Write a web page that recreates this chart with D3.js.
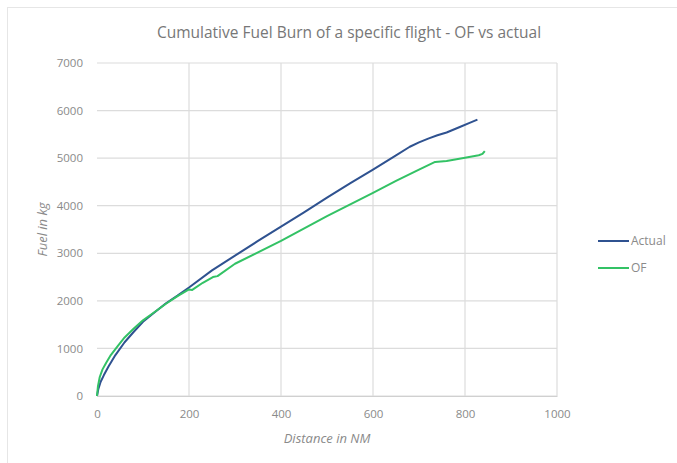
<!DOCTYPE html>
<html>
<head>
<meta charset="utf-8">
<script src="https://cdn.jsdelivr.net/npm/d3@7"></script>
<style>
  body { margin: 0; background: #fff; }
  svg { font-family: "Open Sans", "Liberation Sans", sans-serif; }
</style>
</head>
<body>
<div id="chart"></div>
<script>
// distance (NM) and cumulative fuel (kg)
const actualDist = [0, 3, 8, 15, 25, 40, 60, 80, 100, 120, 150, 175, 200, 250, 300, 350, 400, 450, 500, 550, 600, 650, 680, 700, 720, 740, 760, 790, 810, 827];
const actualFuel = [0, 150, 300, 440, 620, 860, 1130, 1350, 1560, 1720, 1950, 2110, 2280, 2640, 2950, 3260, 3560, 3860, 4170, 4470, 4760, 5060, 5240, 5330, 5410, 5480, 5540, 5660, 5740, 5810];

const ofDist = [0, 2, 6, 12, 20, 30, 45, 60, 80, 100, 120, 150, 175, 200, 207, 230, 252, 262, 300, 400, 500, 600, 650, 700, 735, 760, 800, 830, 838, 843];
const ofFuel = [0, 200, 400, 560, 700, 860, 1050, 1230, 1420, 1590, 1730, 1940, 2100, 2240, 2230, 2380, 2500, 2520, 2780, 3260, 3780, 4270, 4520, 4760, 4920, 4940, 5010, 5060, 5090, 5150];

const xTicks = [0, 200, 400, 600, 800, 1000];
const yTicks = [0, 1000, 2000, 3000, 4000, 5000, 6000, 7000];

const seriesNames = ["Actual", "OF"];
const seriesColors = ["#2f5290", "#33c265"];

const width = 677, height = 463;
const margin = {left: 97, right: 120, top: 63, bottom: 67};

const svg = d3.select("#chart").append("svg")
    .attr("width", width)
    .attr("height", height);

// outer chart frame
svg.append("rect")
    .attr("x", 7.5).attr("y", 7.5)
    .attr("width", 700).attr("height", 500)
    .attr("fill", "none")
    .attr("stroke", "#e6e6e6");

const x = d3.scaleLinear().domain([0, 1000]).range([margin.left, width - margin.right]);
const y = d3.scaleLinear().domain([0, 7000]).range([height - margin.bottom, margin.top]);

// gridlines
svg.append("g").selectAll("line")
    .data(yTicks)
    .enter().append("line")
    .attr("x1", x(0)).attr("x2", x(1000))
    .attr("y1", d => y(d)).attr("y2", d => y(d))
    .attr("stroke", "#dcdcdc")
    .attr("stroke-width", 1.2);

svg.append("g").selectAll("line")
    .data(xTicks.filter(d => d > 0))
    .enter().append("line")
    .attr("x1", d => x(d)).attr("x2", d => x(d))
    .attr("y1", y(0)).attr("y2", y(7000))
    .attr("stroke", "#dcdcdc")
    .attr("stroke-width", 1.2);

// axes (labels only, Excel style)
const xAxis = svg.append("g")
    .attr("transform", `translate(0,${y(0)})`)
    .call(d3.axisBottom(x).tickValues(xTicks).tickFormat(d3.format("d")).tickSize(0).tickPadding(14));
const yAxis = svg.append("g")
    .attr("transform", `translate(${x(0)},0)`)
    .call(d3.axisLeft(y).tickValues(yTicks).tickFormat(d3.format("d")).tickSize(0).tickPadding(14));

[xAxis, yAxis].forEach(a => {
    a.select(".domain").attr("stroke", "#d0d0d0").attr("stroke-width", 1.2);
    a.selectAll("text")
        .attr("fill", "#8a8a8a")
        .style("font-size", "11.5px")
        .style("font-family", "\"Open Sans\", sans-serif");
});
yAxis.select(".domain").remove();

// lines
const line = d3.line()
    .x(d => x(d[0]))
    .y(d => y(d[1]));

const series = [
    d3.zip(actualDist, actualFuel),
    d3.zip(ofDist, ofFuel)
];

svg.append("g").selectAll("path")
    .data(series)
    .enter().append("path")
    .attr("d", line)
    .attr("fill", "none")
    .attr("stroke", (d, i) => seriesColors[i])
    .attr("stroke-width", 2)
    .attr("stroke-linejoin", "round");

// title
svg.append("text")
    .attr("x", 349)
    .attr("y", 38)
    .attr("text-anchor", "middle")
    .attr("fill", "#777777")
    .style("font-size", "15.5px")
    .text("Cumulative Fuel Burn of a specific flight - OF vs actual");

// axis titles
svg.append("text")
    .attr("x", (x(0) + x(1000)) / 2)
    .attr("y", 443)
    .attr("text-anchor", "middle")
    .attr("fill", "#8a8a8a")
    .style("font-size", "13px")
    .style("font-style", "italic")
    .text("Distance in NM");

svg.append("text")
    .attr("transform", `translate(47,${(y(0) + y(7000)) / 2}) rotate(-90)`)
    .attr("text-anchor", "middle")
    .attr("fill", "#8a8a8a")
    .style("font-size", "13px")
    .style("font-style", "italic")
    .text("Fuel in kg");

// legend
const legend = svg.append("g").selectAll("g")
    .data(seriesNames)
    .enter().append("g")
    .attr("transform", (d, i) => `translate(598,${241 + i * 27})`);

legend.append("line")
    .attr("x1", 0).attr("x2", 31)
    .attr("stroke", (d, i) => seriesColors[i])
    .attr("stroke-width", 2);

legend.append("text")
    .attr("x", 33)
    .attr("dy", "0.35em")
    .attr("fill", "#8a8a8a")
    .style("font-size", "12px")
    .text(d => d);
</script>
</body>
</html>
